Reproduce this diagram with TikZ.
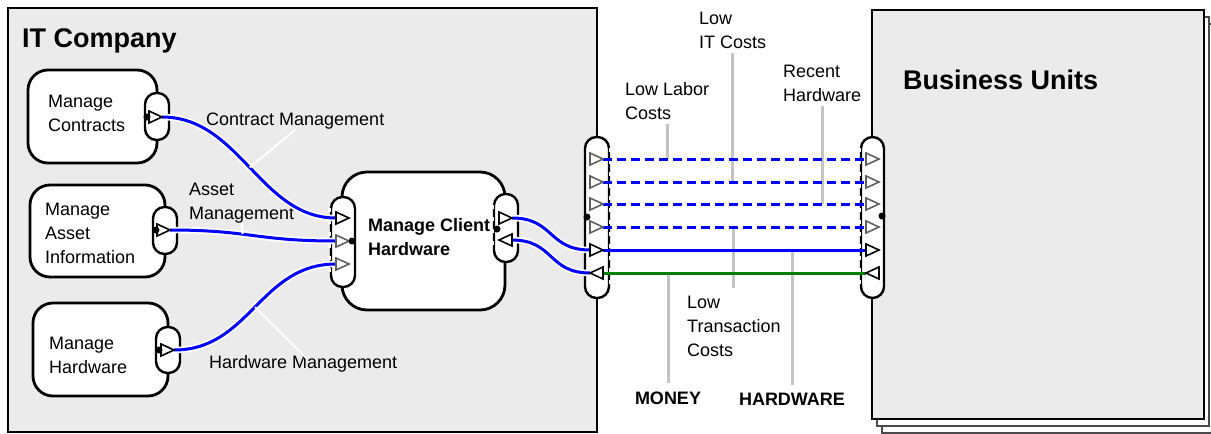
\documentclass[tikz,border=0pt]{standalone}
\usepackage{fontspec}
\setmainfont{Liberation Sans}
\usetikzlibrary{fit,calc}
\definecolor{panel}{HTML}{EBEBEB}
\definecolor{callgray}{HTML}{C4C4C4}
\definecolor{portgray}{HTML}{606060}
\definecolor{flowgreen}{RGB}{0,128,0}
\definecolor{pageedge}{HTML}{4A4A4A}
\tikzset{
  panelbox/.style={draw=black, line width=2.8pt, fill=panel, inner sep=0pt},
  sheet/.style={draw=pageedge, line width=2.4pt, fill=white, inner sep=0pt},
  proc/.style={draw=black, line width=2.8pt, fill=white, rounded corners=20pt, inner sep=0pt},
  port/.style={draw=black, line width=2.4pt, fill=white, rounded corners=11.5pt, inner sep=0pt},
  openside/.style={draw=white, line width=3pt, dash pattern=on 4pt off 8pt},
  portdot/.style={circle, fill=black, inner sep=0pt, minimum size=7pt},
  txt/.style={font=\fontsize{18}{24}\selectfont, align=left, anchor=north west, inner sep=0pt},
  btxt/.style={font=\fontsize{18}{24}\selectfont\bfseries, align=left, anchor=north west, inner sep=0pt},
  headtxt/.style={font=\fontsize{27}{32}\selectfont\bfseries, anchor=north west, inner sep=0pt},
  flow/.style={draw=blue, line width=3pt},
  haloflow/.style={flow, preaction={draw=white, line width=6.5pt}},
  offer/.style={flow, dash pattern=on 9pt off 5pt},
  pay/.style={draw=flowgreen, line width=3pt},
  tag/.style={draw=callgray, line width=3pt},
  wtag/.style={draw=white, line width=2pt},
  % right-pointing open triangle, origin at its base
  pics/rtri/.style={code={\draw[line width=1.6pt, fill=white, line join=miter, draw=#1] (0,-6) -- (13,0) -- (0,6) -- cycle;}},
  % left-pointing open triangle, origin at its base
  pics/ltri/.style={code={\draw[line width=1.6pt, fill=white, line join=miter, draw=#1] (0,-6) -- (-13,0) -- (0,6) -- cycle;}},
}
\begin{document}
\begin{tikzpicture}[x=1pt,y=-1pt]
\useasboundingbox (0,0) rectangle (1211,434);

% ---- Business Units (stacked sheets) ----
\node[sheet, fit={(882,24)(1214,433)}] (bu3) {};
\node[sheet, fit={(877,17)(1209,426)}] (bu2) {};
\node[panelbox, fit={(872,10)(1204,419)}] (bu) {};
\node[headtxt] (butitle) at (903,70) {Business Units};

% ---- IT Company ----
\node[panelbox, fit={(8,8)(597,432)}] (itc) {};
\node[headtxt] (ittitle) at (22,28) {IT Company};

% ---- processes ----
\node[proc, fit={(28,70)(157,163)}] (mc) {};
\node[proc, fit={(30,185)(165,277)}] (mai) {};
\node[proc, fit={(33,303)(168,396)}] (mh) {};
\node[proc, rounded corners=25pt, fit={(342,172)(505,310)}] (mch) {};

\node[txt] (tmc) at (48,95) {Manage\\Contracts};
\node[txt] (tmai) at (45,203) {Manage\\Asset\\Information};
\node[txt] (tmh) at (49,337) {Manage\\Hardware};
\node[btxt] (tmch) at (368,218) {Manage Client\\Hardware};

% ---- ports ----
\node[port, fit={(145,93)(169,140)}] (pmc) {};
\node[port, fit={(153,207)(177,254)}] (pmai) {};
\node[port, fit={(156,327)(180,373)}] (pmh) {};
\node[port, fit={(331,197)(355,287)}] (pin) {};
\node[port, fit={(494,194)(518,262)}] (pout) {};
\node[port, fit={(585,137)(609,298)}] (pit) {};
\node[port, fit={(861,137)(884,298)}] (pbu) {};

\draw[openside] ($(pin.north west)+(0,12)$) -- ($(pin.south west)-(0,12)$);
\draw[openside] ($(pout.north west)+(0,12)$) -- ($(pout.south west)-(0,12)$);
\draw[openside] ($(pit.north east)+(0,12)$) -- ($(pit.south east)-(0,12)$);
\draw[openside] ($(pbu.north west)+(0,12)$) -- ($(pbu.south west)-(0,12)$);

% ---- connection points ----
\coordinate (mcOut) at (162,117);
\coordinate (maiOut) at (170,230);
\coordinate (mhOut) at (174,350);
\coordinate (chIn1) at (336,218);
\coordinate (chIn2) at (336,241);
\coordinate (chIn3) at (336,264);
\coordinate (chOut) at (512,218);
\coordinate (chBack) at (512,240);
\coordinate (itIn) at (590,250);
\coordinate (itBack) at (590,273);
\coordinate (itBackIn) at (603,273);
\coordinate (itS1) at (603,159);
\coordinate (itS2) at (603,182);
\coordinate (itS3) at (603,204);
\coordinate (itS4) at (603,227);
\coordinate (itS5) at (603,250);
\coordinate (buR1) at (866,159);
\coordinate (buR2) at (866,182);
\coordinate (buR3) at (866,204);
\coordinate (buR4) at (866,227);
\coordinate (buR5) at (866,250);
\coordinate (buBack) at (866,273);

% ---- labels ----
\node[txt] (lcm) at (206,113) {Contract Management};
\node[txt] (lam) at (189,183) {Asset\\Management};
\node[txt] (lhm) at (209,355) {Hardware Management};
\node[txt] (llabor) at (625,82) {Low Labor\\Costs};
\node[txt] (lit) at (699,12) {Low\\IT Costs};
\node[txt] (lrecent) at (783,65) {Recent\\Hardware};
\node[txt] (ltrans) at (687,296) {Low\\Transaction\\Costs};
\node[btxt, anchor=north] (lmoney) at (668,392) {MONEY};
\node[btxt, anchor=north] (lhw) at (792,393) {HARDWARE};

% ---- callout lines to the exchanges ----
\draw[tag, shorten <=4pt] (llabor.south) -- (llabor.south |- itS1);
\draw[tag, shorten <=4pt] (lit.south) -- (lit.south |- itS2);
\draw[tag, shorten <=4pt] (lrecent.south) -- (lrecent.south |- itS3);
\draw[tag, shorten >=8pt] (ltrans.north |- itS4) -- (ltrans.north);
\draw[tag, shorten >=9pt] (lmoney.north |- itBack) -- (lmoney.north);
\draw[tag, shorten >=8pt] (lhw.north |- itS5) -- (lhw.north);

% ---- flows inside the IT company ----
\draw[haloflow] (mcOut) .. controls +(78,0) and +(-76,0) .. coordinate[pos=0.5] (fcm) (chIn1);
\draw[haloflow] (maiOut) .. controls +(80,0) and +(-80,0) .. coordinate[pos=0.42] (fam) (chIn2);
\draw[haloflow] (mhOut) .. controls +(76,0) and +(-76,0) .. coordinate[pos=0.5] (fhm) (chIn3);
\draw[haloflow] (chOut) .. controls +(42,0) and +(-42,0) .. (itIn);
\draw[haloflow] (itBack) .. controls +(-42,0) and +(42,0) .. (chBack);

\draw[wtag] (lcm.south) -- (fcm);
\draw[wtag] (lam.south) -- (fam);
\draw[wtag, shorten <=-5pt] (lhm.north) -- (fhm);

% ---- exchanges with the business units ----
\draw[offer] (itS1) -- (buR1);
\draw[offer] (itS2) -- (buR2);
\draw[offer] (itS3) -- (buR3);
\draw[offer] (itS4) -- (buR4);
\draw[flow] (itS5) -- (buR5);
\draw[pay] (buBack) -- (itBackIn);

% ---- port triangles ----
\pic at (149,117) {rtri=black};
\pic at (157,230) {rtri=black};
\pic at (161,350) {rtri=black};
\pic at (chIn1) {rtri=black};
\pic at (chIn2) {rtri=portgray};
\pic at (chIn3) {rtri=portgray};
\pic at (499,218) {rtri=black};
\pic at (chBack) {ltri=black};
\pic at (590,159) {rtri=portgray};
\pic at (590,182) {rtri=portgray};
\pic at (590,204) {rtri=portgray};
\pic at (590,227) {rtri=portgray};
\pic at (itIn) {rtri=black};
\pic at (itBackIn) {ltri=black};
\pic at (buR1) {rtri=portgray};
\pic at (buR2) {rtri=portgray};
\pic at (buR3) {rtri=portgray};
\pic at (buR4) {rtri=portgray};
\pic at (buR5) {rtri=black};
\pic at (879,273) {ltri=black};

% ---- port dots ----
\node[portdot] (dmc) at (147,117) {};
\node[portdot] (dmai) at (156,230) {};
\node[portdot] (dmh) at (159,350) {};
\node[portdot] (dpin) at (352,241) {};
\node[portdot] (dpout) at (497,229) {};
\node[portdot] (dpit) at (587,217) {};
\node[portdot] (dpbu) at (882,216) {};
\end{tikzpicture}
\end{document}
